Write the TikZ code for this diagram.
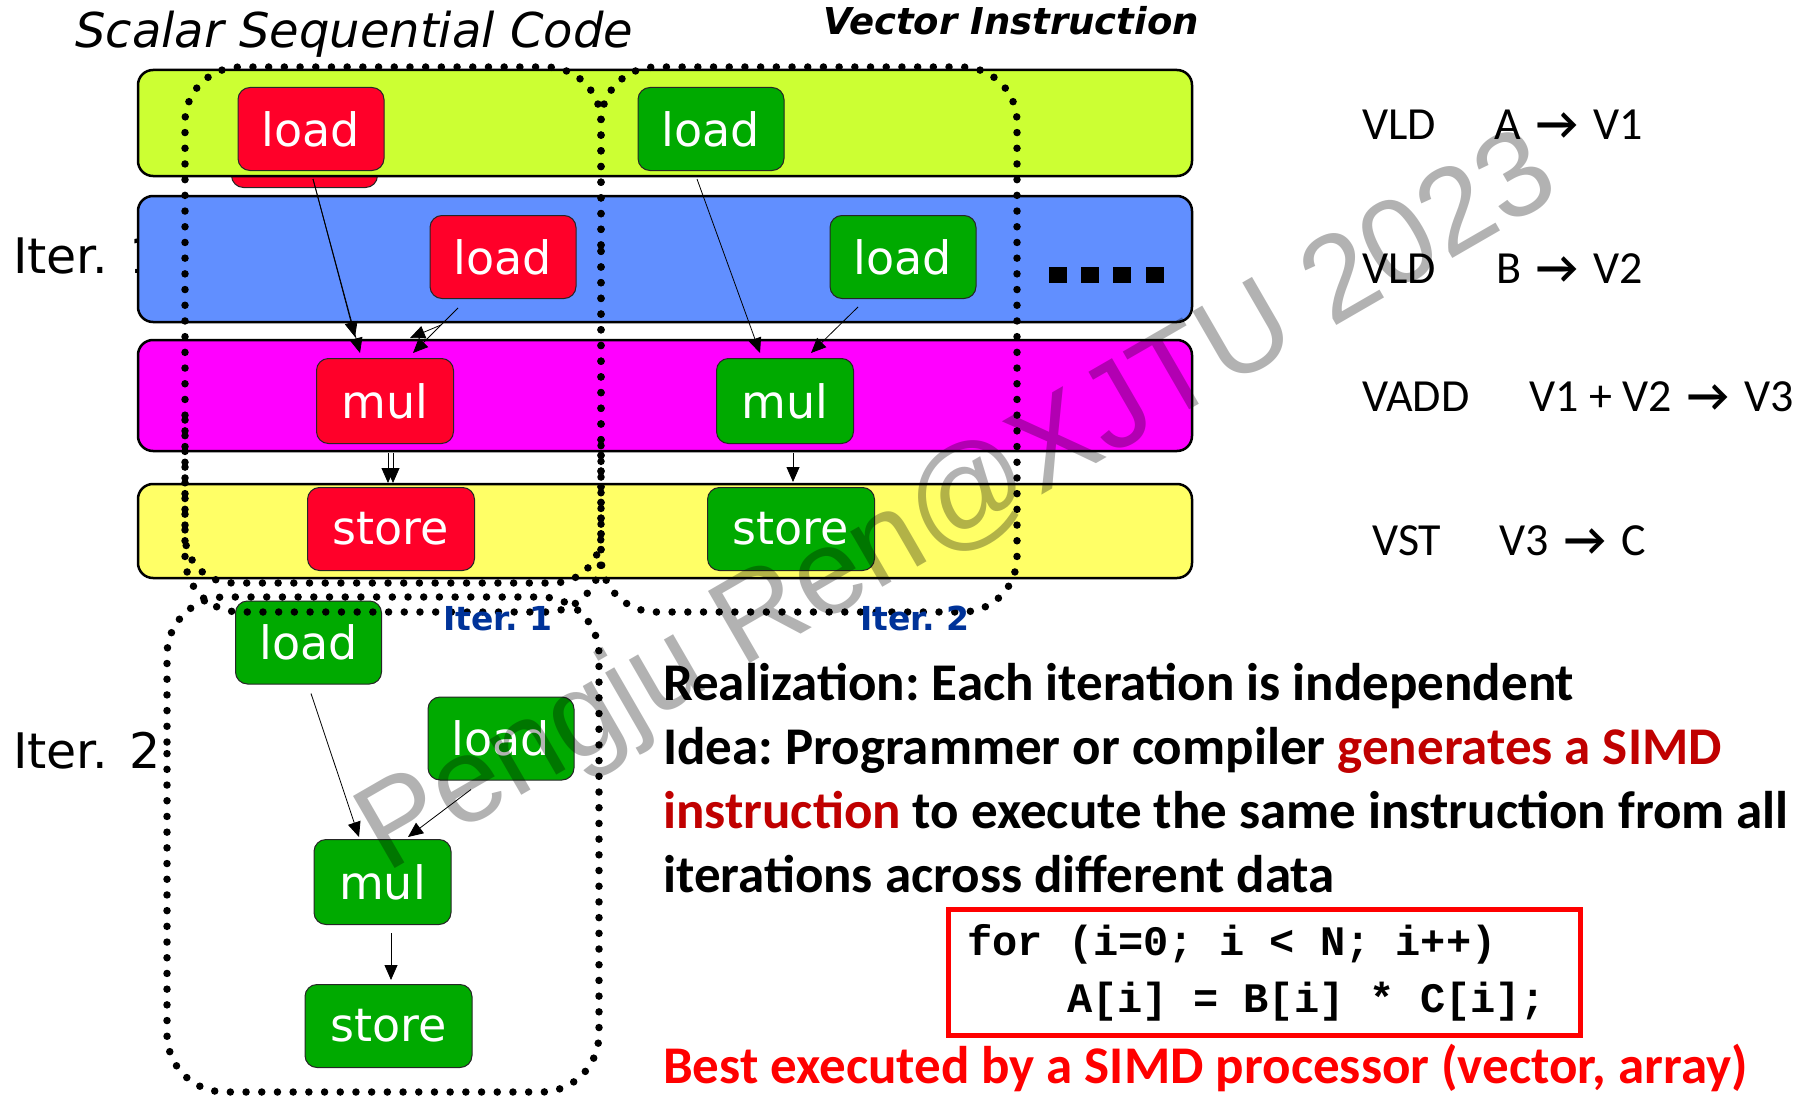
\documentclass[tikz,border=0pt]{standalone}
\usepackage{fontspec}
\usetikzlibrary{arrows.meta,calc}
\newfontfamily\dvsans{DejaVu Sans}
\newfontfamily\carlito{Carlito}
\newfontfamily\lmono{Liberation Mono}
\newfontfamily\libsans{Liberation Sans}
\definecolor{barlime}{RGB}{204,255,51}
\definecolor{barblue}{RGB}{97,143,255}
\definecolor{barmag}{RGB}{255,0,255}
\definecolor{baryel}{RGB}{255,255,102}
\definecolor{opred}{RGB}{255,0,41}
\definecolor{opgreen}{RGB}{0,170,0}
\definecolor{ideared}{RGB}{192,0,0}
\definecolor{iterblue}{RGB}{0,51,153}
% arrow between operands of a vector instruction
\newcommand\vecto{\hspace{5pt}{\bfseries →}\hspace{5pt}}
\begin{document}
\frenchspacing
\begin{tikzpicture}[x=1pt,y=-1pt,
  bar/.style={draw=black, line width=2.5pt, rounded corners=15pt, inner sep=0pt, minimum width=1054pt},
  op/.style={draw=black!85, line width=1pt, rounded corners=12pt, text=white, inner sep=0pt,
             font=\dvsans\fontsize{46}{50}\selectfont},
  opload/.style={op, minimum width=146pt, minimum height=83pt},
  opmul/.style={op, minimum width=137pt, minimum height=85pt},
  opstore/.style={op, minimum width=167pt, minimum height=83pt},
  red/.style={fill=opred}, grn/.style={fill=opgreen},
  dotline/.style={line width=7.5pt, dash pattern=on 0pt off 15.7pt, line cap=round},
  arr/.style={-{Triangle[length=15pt,width=13pt]}, line width=0.8pt},
  lbl/.style={anchor=base west, inner sep=0pt},
  body/.style={lbl, font=\carlito\bfseries\fontsize{53}{60}\selectfont},
  instr/.style={lbl, font=\carlito\fontsize{46}{52}\selectfont},
  code/.style={lbl, font=\lmono\bfseries\fontsize{42}{46}\selectfont},
  rowlbl/.style={lbl, font=\dvsans\fontsize{49}{56}\selectfont},
  iterlbl/.style={lbl, font=\dvsans\bfseries\fontsize{33}{38}\selectfont, text=iterblue}
]
\useasboundingbox (0,0) rectangle (1807,1097);

% row label that sits behind the blue bar
\node[rowlbl] (it1) at (13,273) {Iter. \hspace{6pt}1};

% shadow of the first scalar load
\node[opload, red] (rshadow) at (304.5,146) {};

% pipeline stage bars
\node[bar, fill=barlime, minimum height=106pt] (bar1) at (665,123) {};
\node[bar, fill=barblue, minimum height=126pt] (bar2) at (665,259) {};
\node[bar, fill=barmag,  minimum height=111pt] (bar3) at (665,395.5) {};
\node[bar, fill=baryel,  minimum height=94pt]  (bar4) at (665,531) {};

% ellipsis in the second bar
\foreach \dx in {1049,1081,1113,1146}
  \fill (\dx,267) rectangle ++(18,16);

\node[rowlbl] (it2) at (13,768) {Iter. \hspace{6pt}2};

% scalar iteration 1
\node[opload, red]  (rl1) at (311,129) {load};
\node[opload, red]  (rl2) at (503,257) {load};
\node[opmul, red]   (rm)  at (385,401) {mul};
\node[opstore, red] (rs)  at (391,529) {store};

% vector instruction
\node[opload, grn]  (gl1) at (711,129) {load};
\node[opload, grn]  (gl2) at (903,257) {load};
\node[opmul, grn]   (gm)  at (785,401) {mul};
\node[opstore, grn] (gs)  at (791,529) {store};

% scalar iteration 2
\node[opload, grn]  (cl1) at (308.5,642.5) {load};
\node[opload, grn]  (cl2) at (501,738.5) {load};
\node[opmul, grn]   (cm)  at (382.5,882) {mul};
\node[opstore, grn] (cs)  at (388.5,1026) {store};

% dependences, scalar iteration 1 (drawn twice)
\draw[arr] ($(rl1.south)+(2,8)$) -- ($(rm.north)+(-30,-21)$);
\draw[arr] ($(rl1.south)+(2,8)$) -- ($(rm.north)+(-25,-5)$);
\draw[arr] ($(rl2.south)+(-62,26)$) -- ($(rm.north)+(25,-20)$);
\draw[arr] ($(rl2.south)+(-45,9)$) -- ($(rm.north)+(28,-5)$);
\draw[arr] ($(rm.south)+(3,9)$) -- ($(rs.north)+(-3,-4)$);
\draw[arr] ($(rm.south)+(8,9)$) -- ($(rs.north)+(2,-4)$);

% dependences, vector
\draw[arr] ($(gl1.south)+(-14,8)$) -- ($(gm.north)+(-25,-5)$);
\draw[arr] ($(gl2.south)+(-45,8)$) -- ($(gm.north)+(26,-5)$);
\draw[arr] ($(gm.south)+(8,9)$) -- ($(gs.north)+(2,-5)$);

% dependences, scalar iteration 2
\draw[arr] ($(cl1.south)+(2.5,9)$) -- ($(cm.north)+(-23.5,-2)$);
\draw[arr] ($(cl2.south)+(-30,9)$) -- ($(cm.north)+(25.5,-2)$);
\draw[arr] ($(cm.south)+(8.5,8)$) -- ($(cs.north)+(2.5,-4)$);

% dotted iteration groups
\draw[dotline, rounded corners=55pt] (601,300) -- (601,67) -- (185,67) -- (185,612) -- (601,612) -- cycle;
\draw[dotline, rounded corners=48pt] (185,420) -- (185,583) -- (601,583) -- (601,430);
\draw[dotline, rounded corners=55pt] (601,300) -- (601,67) -- (1017,67) -- (1017,612) -- (601,612) -- cycle;
\draw[dotline, rounded corners=58pt] (167,800) -- (167,597) -- (599,597) -- (599,1092) -- (167,1092) -- cycle;

\node[iterlbl] (g1) at (443,630) {Iter. 1};
\node[iterlbl] (g2) at (860,630) {Iter. 2};

% headings
\node[lbl, font=\dvsans\itshape\fontsize{48}{56}\selectfont] (t1) at (75,48) {Scalar Sequential Code};
\node[lbl, font=\dvsans\bfseries\itshape\fontsize{37}{44}\selectfont] (t2) at (823,35) {Vector Instruction};

% vector instructions
\node[instr] (v1a) at (1362,140) {VLD};
\node[instr] (v1b) at (1494,140) {A \vecto\ V1};
\node[instr] (v2a) at (1362,283) {VLD};
\node[instr] (v2b) at (1496,283) {B \vecto\ V2};
\node[instr] (v3a) at (1362,411) {VADD};
\node[instr] (v3b) at (1529,411) {V1 + V2 \vecto\ V3};
\node[instr] (v4a) at (1372,555) {VST};
\node[instr] (v4b) at (1499,555) {V3 \vecto\ C};

% explanation
\node[body] (p1) at (663,700) {Realization: Each iteration is independent};
\node[body] (p2) at (663,764) {Idea: Programmer or compiler \textcolor{ideared}{generates a SIMD}};
\node[body] (p3) at (663,828) {\textcolor{ideared}{instruction} to execute the same instruction from all};
\node[body] (p4) at (663,892) {iterations across different data};

\node[draw=red, line width=5pt, minimum width=632.5pt, minimum height=126pt, inner sep=0pt] (codebox) at (1264.25,972.5) {};
\node[code] (c1) at (967,955) {for (i=0; i < N; i++)};
\node[code] (c2) at (1067,1012) {A[i] = B[i] * C[i];};

\node[body, text=red] (p5) at (663,1083) {Best executed by a SIMD processor (vector, array)};

% watermark
\node[lbl, rotate=30, text=black, text opacity=0.3, font=\libsans\fontsize{121}{124}\selectfont] (wm) at (386,874) {Pengju Ren@XJTU 2023};
\end{tikzpicture}
\end{document}
